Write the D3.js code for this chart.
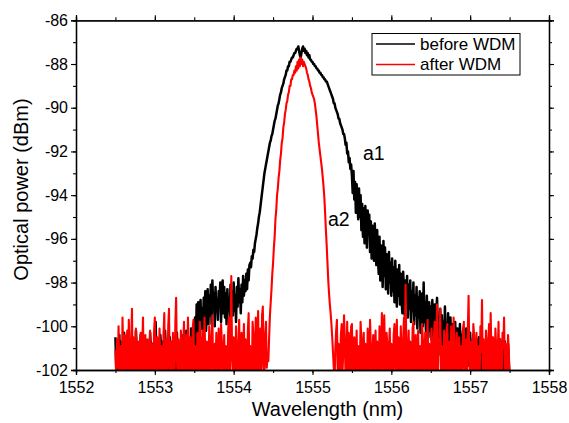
<!DOCTYPE html>
<html><head><meta charset="utf-8">
<script src="https://cdn.jsdelivr.net/npm/d3@7"></script>
<style>body{margin:0;background:#fff}svg{display:block}text{font-family:"Liberation Sans",Arial,sans-serif;fill:#000}</style>
</head><body><svg id="c" width="569" height="423"></svg>
<script>
// wavelength sampling grid (nm)
const wlStart = 1552.5, wlStep = 0.01;
const seriesNames = ["before WDM", "after WDM"];
const xTicks = [1552, 1553, 1554, 1555, 1556, 1557, 1558];
const yTicks = [-102, -100, -98, -96, -94, -92, -90, -88, -86];

// before WDM (dBm), 1552.50 .. 1557.50 nm
const beforeWDM = [
-100.5,-101.8,-100.9,-102.3,-101.2,-100.4,-102.1,-101.5,-100.7,-102.4,
-101.0,-100.3,-102.2,-101.7,-100.8,-102.5,-101.3,-100.5,-101.9,-102.2,
-100.6,-101.4,-102.3,-100.9,-101.6,-102.1,-100.2,-101.1,-102.4,-100.8,
-101.5,-102.2,-100.4,-101.2,-102.5,-100.9,-101.7,-102.3,-100.6,-101.3,
-102.1,-100.7,-101.5,-102.4,-100.3,-101.0,-102.2,-100.8,-101.6,-102.5,
-100.5,-99.8,-101.3,-102.2,-100.9,-101.7,-102.4,-100.4,-101.1,-102.1,
-100.7,-101.5,-102.3,-100.2,-101.2,-102.5,-100.8,-101.6,-102.2,-100.5,
-101.3,-102.4,-100.9,-101.0,-102.1,-100.6,-101.8,-102.3,-100.3,-101.4,
-102.2,-100.8,-101.5,-102.5,-100.4,-101.1,-102.1,-100.7,-101.6,-102.4,
-100.2,-101.3,-102.2,-100.6,-101.0,-102.3,-100.1,-101.4,-100.5,-101.9,
-100.8,-99.6,-101.2,-99.0,-100.3,-98.9,-100.6,-99.4,-98.8,-100.1,
-99.2,-100.4,-98.7,-99.8,-98.4,-100.2,-99.1,-98.3,-99.9,-98.6,
-99.5,-98.1,-99.9,-97.9,-99.0,-98.5,-100.0,-98.2,-99.3,-98.8,
-99.7,-98.4,-99.1,-98.0,-99.8,-98.6,-97.9,-99.4,-98.2,-99.6,
-98.5,-99.9,-98.3,-99.2,-98.7,-99.7,-98.1,-99.0,-98.4,-99.5,
-98.0,-99.3,-98.6,-99.8,-98.2,-99.1,-97.8,-98.9,-98.3,-99.4,
-98.1,-98.9,-97.7,-98.6,-97.9,-98.4,-97.6,-98.3,-97.4,-97.9,
-97.2,
-97.1,-97.3,-96.8,-96.9,-96.5,-96.6,-96.2,-96.0,-95.8,-95.5,
-95.3,-95.0,-94.8,-94.5,-94.2,-93.9,-93.6,-93.3,-93.0,-92.8,
-92.6,-92.4,-92.2,-92.0,-91.8,-91.6,-91.5,-91.3,-91.2,-91.0,
-90.8,-90.6,-90.5,-90.3,-90.1,-89.9,-89.8,-89.6,-89.4,-89.3,
-89.1,-89.0,-88.9,-88.7,-88.6,-88.5,-88.3,-88.3,-88.1,-88.1,
-87.9,-87.9,-87.8,-87.7,-87.7,-87.6,-87.5,-87.5,-87.4,-87.3,
-87.3,-87.2,-87.4,-87.6,-87.7,-87.5,-87.3,-87.2,-87.4,-87.3,
-87.5,-87.4,-87.6,-87.5,-87.7,-87.6,-87.8,-87.8,-87.9,-87.9,
-88.0,-88.0,-88.1,-88.1,-88.2,-88.2,-88.3,-88.3,-88.4,-88.4,
-88.5,-88.5,-88.6,-88.6,-88.7,-88.7,-88.8,-88.8,-88.9,-89.0,
-89.1,-89.2,-89.3,-89.4,-89.5,-89.6,-89.8,-89.8,-90.0,-90.1,
-90.2,-90.3,-90.5,-90.5,-90.7,-90.8,-90.9,-91.0,-91.2,-91.2,
-91.4,-91.7,-91.6,-92.1,-92.0,-92.5,-92.3,-92.8,-92.6,-93.1,
-93.9,-92.9,-94.2,-93.4,-94.8,-93.5,-94.3,-95.1,-93.7,-95.0,
-94.0,-95.6,-94.4,-95.9,-94.6,-96.2,-94.5,-95.3,-96.4,-94.7,
-95.8,-94.9,-96.6,-95.2,-96.9,-95.4,-95.9,-97.0,-95.3,-96.5,
-97.2,-95.6,-96.8,-97.6,-95.9,-97.9,-96.3,-96.9,-98.2,-96.1,
-97.7,-96.4,-98.3,-96.7,-97.4,-98.5,-96.6,-98.0,-97.1,-98.6,
-96.9,-98.4,-97.3,-98.9,-97.0,-98.2,-99.1,-97.4,-98.6,-97.2,
-99.0,-97.6,-98.8,-99.4,-97.5,-98.3,-99.5,-97.9,-98.9,-97.7,
-99.6,-98.1,-99.2,-97.9,-99.8,-98.4,-99.3,-98.0,-99.9,-98.6,
-99.5,-98.2,-100.1,-98.7,-99.6,-98.4,-100.3,-99.0,-98.5,-100.0,
-98.0,-99.8,-98.9,-100.4,-98.6,-99.7,-100.5,-98.9,-100.2,-99.1,
-100.6,-98.8,-99.9,-100.4,-99.0,-100.7,-99.3,-98.7,-100.5,-99.6,
-100.8,-99.2,-100.3,-99.5,-101.0,-99.8,-100.6,-99.1,-100.9,-99.9,
-100.7,-99.4,-101.1,-100.0,-99.6,-101.3,-100.2,-99.9,-100.8,-101.2,
-99.8,-100.9,-101.4,-100.1,-100.6,-101.5,-99.9,-101.0,-100.4,-101.6,
-100.2,-101.3,-100.7,-101.7,-100.1,-101.1,-101.8,-100.5,-101.4,-100.3,
-101.6,-100.8,-101.2,-100.4,-101.9,-100.9,-101.5,-100.6,-102.0,-101.1,
-100.5,-101.7,-100.9,-102.1,-101.3,-100.6,-101.8,-100.8,-101.4,-102.2,
-100.7,-101.5,-101.0,-102.0,-100.9,-101.6,-100.5,-101.9,-101.2,-102.3,
-100.8,-101.4,-102.1,-100.9,-101.7,-101.0,-102.2,-100.6,-101.5,-101.9,
-100.9,-102.3,-101.2,-100.7,-101.8,-101.3,-102.1,-100.8,-101.6,-102.4
];

// after WDM (dBm), 1552.50 .. 1557.50 nm
const afterWDM = [
-101.1,-102.4,-100.6,-101.9,-100.0,-102.3,-100.9,-101.7,-102.5,-99.6,
-101.4,-102.2,-100.4,-102.6,-101.0,-100.2,-102.1,-99.7,-101.6,-102.4,
-100.8,-99.2,-102.3,-100.5,-101.8,-102.5,-100.1,-101.2,-102.2,-100.7,
-102.4,-101.3,-100.3,-102.1,-100.9,-99.6,-102.5,-101.0,-100.4,-102.3,
-101.5,-100.6,-102.2,-101.9,-100.2,-102.4,-100.8,-101.4,-102.6,-100.3,
-99.6,-102.1,-101.2,-100.5,-102.4,-101.6,-100.1,-102.2,-100.9,-101.7,
-102.5,-100.4,-99.4,-102.3,-101.1,-100.6,-102.1,-100.0,-99.2,-102.4,
-101.3,-100.7,-102.2,-100.3,-101.8,-102.5,-99.9,-98.7,-101.5,-102.3,
-100.6,-101.9,-102.4,-100.2,-101.1,-102.2,-100.8,-99.8,-102.5,-101.4,
-100.4,-102.1,-99.6,-101.0,-102.3,-100.5,-101.7,-102.4,-100.1,-99.7,
-102.2,-100.9,-101.5,-102.5,-100.3,-101.2,-102.1,-99.8,-100.6,-102.4,
-101.0,-100.2,-102.3,-99.6,-101.4,-102.2,-100.7,-101.8,-102.5,-100.0,
-101.3,-102.1,-100.5,-99.5,-102.4,-101.1,-100.8,-102.2,-100.3,-101.6,
-102.5,-100.1,-101.2,-102.3,-99.9,-100.7,-102.1,-101.5,-100.4,-102.4,
-100.9,-101.8,-102.2,-100.2,-99.6,-102.5,-100.6,-97.7,-101.4,-102.3,
-100.5,-101.1,-102.4,-100.0,-101.7,-102.2,-100.8,-99.7,-102.5,-101.2,
-100.3,-102.1,-101.5,-99.9,-102.3,-100.6,-101.0,-102.4,-100.2,-99.4,
-102.2,-100.9,-101.6,-102.5,-99.8,-100.4,-102.1,-101.3,-99.6,-102.4,
-100.7,-99.3,-102.2,-101.0,-100.1,-102.5,-99.5,-99.1,-101.8,-102.3,
-100.4,-99.8,-101.9,-101.2,
-101.6,-100.5,-99.5,-98.9,-98.3,-97.6,-97.1,-96.4,-95.9,-95.1,
-94.7,-94.0,-93.7,-93.2,-92.9,-92.4,-92.1,-91.6,-91.4,-90.9,
-90.7,-90.3,-90.1,-89.8,-89.7,-89.4,-89.3,-89.0,-89.0,-88.7,
-88.7,-88.5,-88.5,-88.3,-88.4,-88.1,-88.3,-87.9,-88.2,-87.8,
-88.1,-87.7,-88.0,-87.8,-88.1,-87.9,-88.0,-88.1,-88.2,-88.4,
-88.5,-88.7,-88.8,-89.0,-89.1,-89.3,-89.4,-89.5,-89.6,-89.8,
-90.1,-90.4,-90.8,-91.2,-91.6,-91.9,-92.2,-92.5,-92.8,-93.2,
-93.6,-94.1,-94.8,-95.6,-96.3,-97.1,-97.9,-98.5,-99.0,-99.4,
-99.9,-100.5,-101.2,-101.9,-102.5,
-101.0,-100.2,-99.7,-102.3,-100.8,-101.5,-102.4,-100.4,-99.9,-102.2,
-101.2,-99.5,-100.6,-102.5,-101.7,-99.8,-102.1,-100.3,-101.0,-102.4,
-100.0,-99.9,-102.3,-101.4,-100.5,-102.2,-101.8,-100.2,-102.5,-100.9,
-101.3,-102.1,-99.8,-100.6,-102.4,-101.0,-100.3,-102.2,-100.8,-101.6,
-102.5,-100.1,-101.2,-102.3,-99.7,-100.9,-102.1,-101.4,-100.4,-102.4,
-101.0,-100.2,-102.2,-100.7,-101.8,-102.5,-100.0,-101.3,-102.1,-99.4,
-100.6,-102.3,-99.5,-101.5,-102.4,-100.3,-100.9,-102.2,-101.1,-100.1,
-102.5,-100.8,-101.6,-102.1,-100.4,-99.9,-102.3,-101.2,-99.7,-102.4,
-100.5,-101.4,-102.2,-100.0,-101.7,-102.5,-100.6,-99.6,-102.1,-98.1,
-100.9,-102.4,-101.1,-100.2,-102.3,-100.7,-101.5,-102.2,-100.1,-99.8,
-102.5,-101.0,-100.4,-102.1,-101.8,-100.2,-102.4,-100.9,-101.3,-102.3,
-99.9,-100.6,-102.2,-101.5,-100.3,-102.5,-101.0,-99.7,-102.1,-100.8,
-101.4,-102.3,-100.1,-101.9,-102.4,-100.5,-99.8,-102.2,-101.2,-99.0,
-102.5,-100.6,-101.3,-99.2,-102.1,-100.9,-101.7,-102.4,-100.2,-101.0,
-102.2,-100.4,-99.9,-102.5,-101.1,-100.7,-102.3,-100.0,-101.6,-102.1,
-99.6,-100.8,-102.4,-101.3,-100.3,-102.2,-101.9,-100.5,-102.5,-100.9,
-101.2,-102.1,-100.1,-99.8,-102.3,-101.0,-100.6,-102.4,-100.2,-98.6,
-101.5,-102.2,-100.7,-101.1,-102.5,-99.9,-100.4,-102.1,-101.7,-100.3,
-102.3,-100.9,-101.4,-102.4,-100.0,-101.2,-98.8,-102.2,-100.6,-101.8,
-102.5,-100.2,-101.0,-102.1,-100.7,-99.9,-102.4,-99.4,-101.3,-102.2,
-100.5,-101.6,-102.3,-100.1,-100.9,-102.5,-101.2,-99.8,-102.1,-100.6,
-101.4,-102.4,-100.3,-101.0,-99.6,-102.2,-100.8,-101.5,-102.3,-100.4,
-101.1,-102.4
];

const m = {left: 76, right: 549, top: 20.3, bottom: 370};
const svg = d3.select("#c");
const x = d3.scaleLinear().domain([1552, 1558]).range([m.left, m.right]);
const y = d3.scaleLinear().domain([-102, -86]).range([m.bottom, m.top]);

svg.append("defs").append("clipPath").attr("id", "clip")
  .append("rect").attr("x", m.left).attr("y", m.top)
  .attr("width", m.right - m.left).attr("height", m.bottom - m.top);

const line = d3.line().x((d, i) => x(wlStart + i * wlStep)).y(d => y(d));
const g = svg.append("g").attr("clip-path", "url(#clip)");
g.append("path").datum(beforeWDM).attr("d", line)
  .attr("fill", "none").attr("stroke", "#000").attr("stroke-width", 2.5).attr("stroke-linejoin", "round");
g.append("path").datum(afterWDM).attr("d", line)
  .attr("fill", "none").attr("stroke", "#ff0000").attr("stroke-width", 2.1).attr("stroke-linejoin", "round");

// axes
const xMinor = d3.range(1552, 1558.01, 0.5);
const yMinor = d3.range(-102, -85.9, 1);
function styleAxis(sel) {
  sel.selectAll("path").attr("stroke", "#000").attr("stroke-width", 1.3);
  sel.selectAll("line").attr("stroke", "#000").attr("stroke-width", 1.1);
  sel.selectAll("text").style("font-size", "16px").attr("fill", "#000");
}
svg.append("g").attr("transform", `translate(0,${m.bottom})`)
  .call(d3.axisBottom(x).tickValues(xMinor).tickSize(3).tickFormat("")).call(styleAxis);
svg.append("g").attr("transform", `translate(0,${m.top})`)
  .call(d3.axisTop(x).tickValues(xMinor).tickSize(3).tickFormat("")).call(styleAxis);
svg.append("g").attr("transform", `translate(${m.left},0)`)
  .call(d3.axisLeft(y).tickValues(yMinor).tickSize(3).tickFormat("")).call(styleAxis);
svg.append("g").attr("transform", `translate(${m.right},0)`)
  .call(d3.axisRight(y).tickValues(yMinor).tickSize(3).tickFormat("")).call(styleAxis);
svg.append("g").attr("transform", `translate(0,${m.bottom})`)
  .call(d3.axisBottom(x).tickValues(xTicks).tickSize(5).tickPadding(7).tickFormat(d3.format("d"))).call(styleAxis);
svg.append("g").attr("transform", `translate(0,${m.top})`)
  .call(d3.axisTop(x).tickValues(xTicks).tickSize(5).tickFormat("")).call(styleAxis);
svg.append("g").attr("transform", `translate(${m.left},0)`)
  .call(d3.axisLeft(y).tickValues(yTicks).tickSize(5).tickPadding(3).tickFormat(d => String(d))).call(styleAxis);
svg.append("g").attr("transform", `translate(${m.right},0)`)
  .call(d3.axisRight(y).tickValues(yTicks).tickSize(5).tickFormat("")).call(styleAxis);

// titles
svg.append("text").attr("x", 327.5).attr("y", 416).attr("text-anchor", "middle")
  .style("font-size", "20px").text("Wavelength (nm)");
svg.append("text").attr("transform", "translate(28,189.5) rotate(-90)").attr("text-anchor", "middle")
  .style("font-size", "20px").text("Optical power (dBm)");

// annotations
svg.append("text").attr("x", 363).attr("y", 160).style("font-size", "19.5px").text("a1");
svg.append("text").attr("x", 328).attr("y", 226).style("font-size", "19.5px").text("a2");

// legend
const lg = svg.append("g");
lg.append("rect").attr("x", 372).attr("y", 33.5).attr("width", 148).attr("height", 41.5)
  .attr("fill", "#fff").attr("stroke", "#000").attr("stroke-width", 1);
const colors = ["#000", "#ff0000"];
seriesNames.forEach((n, i) => {
  const yy = 44 + i * 20.5;
  lg.append("line").attr("x1", 376).attr("x2", 415).attr("y1", yy).attr("y2", yy)
    .attr("stroke", colors[i]).attr("stroke-width", 1.6);
  lg.append("text").attr("x", 420).attr("y", yy + 5.8).style("font-size", "17px").text(n);
});
</script></body></html>
